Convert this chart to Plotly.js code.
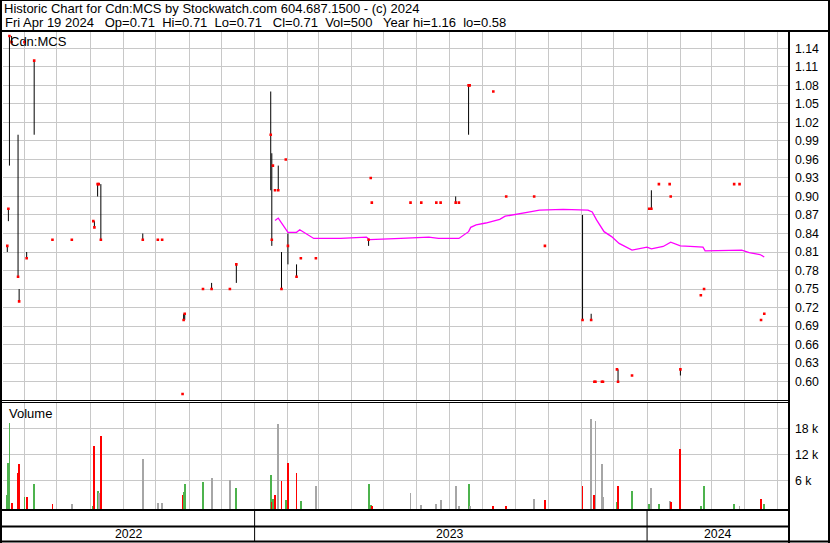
<!DOCTYPE html>
<html>
<head>
<meta charset="utf-8">
<script src="https://cdn.plot.ly/plotly-3.0.1.min.js"></script>
<style>
html, body { margin: 0; padding: 0; background: #ffffff; }
#chart { width: 830px; height: 543px; }
</style>
</head>
<body>
<div id="chart"></div>
<script>
// ---------------- DATA ----------------
const tradeDates = [
  '2022-05-16','2022-05-17','2022-05-18','2022-05-20','2022-05-26','2022-05-27','2022-06-01','2022-06-03','2022-06-10','2022-06-27',
  '2022-07-15','2022-08-04','2022-08-05','2022-08-08','2022-08-09','2022-08-11','2022-09-19','2022-10-03','2022-10-07','2022-10-26',
  '2022-10-27','2022-10-28','2022-11-14','2022-11-22','2022-12-09','2022-12-15',
  '2023-01-16','2023-01-17','2023-01-18','2023-01-20','2023-01-23','2023-01-26','2023-01-30','2023-02-01','2023-02-09','2023-02-13',
  '2023-02-27','2023-04-17','2023-04-19','2023-04-20','2023-05-26','2023-06-05','2023-06-19','2023-06-23','2023-07-07','2023-07-10',
  '2023-07-19','2023-07-20','2023-08-11','2023-08-23','2023-09-18','2023-09-28','2023-11-02','2023-11-10','2023-11-13','2023-11-14',
  '2023-11-20','2023-11-21','2023-12-04','2023-12-05','2023-12-18',
  '2024-01-03','2024-01-05','2024-01-12','2024-01-22','2024-01-23','2024-02-01','2024-02-20','2024-02-23','2024-03-22','2024-03-27',
  '2024-04-16','2024-04-19'
];
const highs = [
  0.82,0.88,1.16,1.16,1.00,0.75,1.15,0.81,1.12,0.83,
  0.83,0.86,0.86,0.92,0.92,0.92,0.84,0.83,0.83,0.58,
  0.71,0.71,0.75,0.76,0.75,0.79,
  1.07,0.97,0.95,0.91,0.95,0.81,0.96,0.84,0.79,0.80,
  0.80,0.83,0.93,0.89,0.89,0.89,0.89,0.89,0.90,0.89,
  1.08,1.08,1.07,0.90,0.90,0.82,0.87,0.71,0.60,0.60,
  0.60,0.60,0.62,0.62,0.61,
  0.88,0.91,0.92,0.92,0.90,0.62,0.74,0.75,0.92,0.92,
  0.70,0.71
];
const lows = [
  0.81,0.86,0.95,1.15,0.77,0.73,1.15,0.80,1.00,0.83,
  0.83,0.86,0.85,0.90,0.92,0.83,0.83,0.83,0.83,0.58,
  0.70,0.70,0.75,0.75,0.75,0.76,
  0.91,0.82,0.95,0.91,0.91,0.75,0.96,0.79,0.77,0.80,
  0.80,0.82,0.93,0.89,0.89,0.89,0.89,0.89,0.89,0.89,
  1.00,1.08,1.07,0.90,0.90,0.82,0.70,0.70,0.60,0.60,
  0.60,0.60,0.62,0.60,0.61,
  0.88,0.88,0.92,0.92,0.90,0.61,0.74,0.75,0.92,0.92,
  0.70,0.71
];
const closes = [
  0.82,0.88,1.16,1.15,0.77,0.73,1.15,0.80,1.12,0.83,
  0.83,0.86,0.85,0.92,0.92,0.83,0.83,0.83,0.83,0.58,
  0.70,0.71,0.75,0.75,0.75,0.79,
  1.00,0.83,0.95,0.91,0.91,0.75,0.96,0.82,0.77,0.80,
  0.80,0.83,0.93,0.89,0.89,0.89,0.89,0.89,0.89,0.89,
  1.08,1.08,1.07,0.90,0.90,0.82,0.70,0.70,0.60,0.60,
  0.60,0.60,0.62,0.60,0.61,
  0.88,0.88,0.92,0.92,0.90,0.62,0.74,0.75,0.92,0.92,
  0.70,0.71
];
const volumes = [
  2600,10000,19300,800,7800,9800,2100,2100,5100,500,
  500,100,13900,3500,3100,16200,10900,800,800,2600,
  3300,5100,5600,6500,6100,4200,
  7200,1000,1700,2600,19000,5900,1450,10000,7700,1200,
  4700,5100,300,100,3100,300,500,1450,4700,100,
  5100,100,100,100,1700,1450,4700,20150,2600,19700,
  9800,2100,1000,4700,3500,
  500,4200,500,1200,1000,13200,100,4700,500,100,
  1700,500
];
const priorClose = 0.80;   // close before the first day shown

// moving average line (magenta)
const maDates = [
  '2023-01-20','2023-01-23','2023-02-01','2023-02-09','2023-02-12','2023-02-25','2023-03-22','2023-04-15','2023-04-18','2023-04-28',
  '2023-05-17','2023-06-12','2023-06-21','2023-07-10','2023-07-15','2023-07-19','2023-07-21','2023-07-26','2023-08-04','2023-08-17',
  '2023-08-22','2023-09-02','2023-09-14','2023-09-23','2023-10-03','2023-10-15','2023-11-07','2023-11-11','2023-11-15','2023-11-22',
  '2023-11-29','2023-12-06','2023-12-18','2024-01-01','2024-01-05','2024-01-16','2024-01-23','2024-02-01','2024-02-10','2024-02-22',
  '2024-02-24','2024-03-08','2024-03-29','2024-04-05','2024-04-15','2024-04-19'
];
const maValues = [
  0.861,0.865,0.842,0.842,0.846,0.832,0.832,0.834,0.830,0.831,
  0.832,0.834,0.832,0.832,0.838,0.843,0.850,0.854,0.857,0.863,
  0.868,0.871,0.875,0.878,0.879,0.879,0.878,0.875,0.862,0.843,
  0.835,0.824,0.813,0.818,0.815,0.819,0.826,0.820,0.819,0.818,
  0.812,0.812,0.813,0.809,0.806,0.802
];

const priceTicks = [0.60,0.63,0.66,0.69,0.72,0.75,0.78,0.81,0.84,0.87,0.90,0.93,0.96,0.99,1.02,1.05,1.08,1.11,1.14];
const volumeTicks = [6000, 12000, 18000];
const volumeTickText = ['6 k', '12 k', '18 k'];
const yearLabels = ['2022', '2023', '2024'];

const headerLine1 = 'Historic Chart for Cdn:MCS by Stockwatch.com 604.687.1500 - (c) 2024';
const headerLine2 = 'Fri Apr 19 2024\u00a0\u00a0 Op=0.71\u00a0 Hi=0.71\u00a0 Lo=0.71\u00a0\u00a0 Cl=0.71\u00a0 Vol=500\u00a0\u00a0 Year hi=1.16\u00a0 lo=0.58';
const symbolLabel = 'Cdn:MCS';
const volumeLabel = 'Volume';

// ---------------- LAYOUT CONSTANTS ----------------
const W = 830, H = 543;
const px = x => x / W;
const py = y => 1 - y / H;
const FONT = 'Liberation Sans, Arial, Helvetica, sans-serif';
const xRange = ['2022-05-12', '2024-05-12'];
const plotL = 3, plotR = 789;
const priceTop = 32, priceBot = 400.2;
const volTop = 402.5, volBot = 510;
const priceRange = [0.57, 1.1664];
const volRange = [-854, 23954];
const GRID = '#c8c8c8';
const GREEN = '#4db34d', RED = '#ff0000', GREY = '#a6a6a6';

// ---------------- TRACES ----------------
const barX = [], barY = [];
tradeDates.forEach((d, i) => {
  barX.push(d, d, null);
  barY.push(highs[i], lows[i], null);
});

const volColors = closes.map((c, i) => {
  const prev = i === 0 ? priorClose : closes[i - 1];
  const diff = Math.round((c - prev) * 1000);
  return diff > 0 ? GREEN : (diff < 0 ? RED : GREY);
});
const volBase = volRange[0];
const barWidthMs = 1.75 * 86400000;

const traces = [
  {
    type: 'scatter', mode: 'lines', x: barX, y: barY,
    line: { color: '#000000', width: 1 }, xaxis: 'x', yaxis: 'y',
    connectgaps: false, hoverinfo: 'skip'
  },
  {
    type: 'scatter', mode: 'lines', x: maDates, y: maValues,
    line: { color: '#ff00ff', width: 1.3 }, xaxis: 'x', yaxis: 'y', hoverinfo: 'skip'
  },
  {
    type: 'scatter', mode: 'markers', x: tradeDates, y: closes,
    marker: { symbol: 'square', size: 2.6, color: '#ff0000', line: { width: 0 } },
    xaxis: 'x', yaxis: 'y', hoverinfo: 'skip'
  },
  {
    type: 'bar', x: tradeDates, y: volumes.map(v => v - volBase), base: volBase,
    width: barWidthMs, marker: { color: volColors, line: { width: 0 } },
    xaxis: 'x2', yaxis: 'y2', hoverinfo: 'skip'
  }
];

// ---------------- SHAPES ----------------
const line = (x0, y0, x1, y1, w) => ({
  type: 'line', xref: 'paper', yref: 'paper',
  x0: px(x0), y0: py(y0), x1: px(x1), y1: py(y1),
  line: { color: '#000000', width: w }, layer: 'above'
});
const shapes = [
  line(0, 0.5, 830, 0.5, 1),
  line(0, 31, 830, 31, 2),
  line(1, 0, 1, 543, 2),
  line(829, 0, 829, 543, 2),
  line(789, 31, 789, 543, 2),
  line(0, 400.5, 789, 400.5, 1),
  line(0, 402.5, 789, 402.5, 1),
  line(0, 510, 789, 510, 2),
  line(0, 526.5, 789, 526.5, 2),
  line(0, 541.5, 830, 541.5, 2)
];
// year separators at year boundaries (through the date axis)
yearLabels.slice(1).forEach(y => {
  shapes.push({
    type: 'line', xref: 'x', yref: 'paper',
    x0: y + '-01-01', x1: y + '-01-01', y0: py(510), y1: py(541),
    line: { color: '#000000', width: 1 }, layer: 'above'
  });
});

// ---------------- ANNOTATIONS ----------------
const ann = (text, x, y, xanchor, size) => ({
  text: text, xref: 'paper', yref: 'paper', x: px(x), y: py(y),
  xanchor: xanchor, yanchor: 'middle', showarrow: false,
  font: { family: FONT, size: size, color: '#000000' }
});
const annotations = [
  ann(headerLine1, 2, 8.8, 'left', 13),
  ann(headerLine2, 3, 22.8, 'left', 13),
  ann(symbolLabel, 8, 41.5, 'left', 13),
  ann(volumeLabel, 7, 413.5, 'left', 13)
];
const r0 = Date.parse(xRange[0]), r1 = Date.parse(xRange[1]);
yearLabels.forEach(y => {
  const a = Math.max(r0, Date.parse(y + '-01-01'));
  const b = Math.min(r1, Date.parse((+y + 1) + '-01-01'));
  const mid = new Date((a + b) / 2).toISOString().slice(0, 10);
  annotations.push({
    text: y, xref: 'x', yref: 'paper', x: mid, y: py(534),
    xanchor: 'center', yanchor: 'middle', showarrow: false,
    font: { family: FONT, size: 12.3, color: '#000000' }
  });
});

// ---------------- LAYOUT ----------------
const xCommon = {
  type: 'date', range: xRange, domain: [px(plotL), px(plotR)],
  showgrid: true, gridcolor: GRID, gridwidth: 1,
  tick0: '2022-01-01', dtick: 'M1', showticklabels: false, ticks: '',
  zeroline: false, showline: false, fixedrange: true
};
const layout = {
  width: W, height: H,
  margin: { l: 0, r: 0, t: 0, b: 0, pad: 0 },
  paper_bgcolor: '#ffffff', plot_bgcolor: '#ffffff',
  showlegend: false, hovermode: false, bargap: 0,
  xaxis: Object.assign({}, xCommon, { anchor: 'y' }),
  xaxis2: Object.assign({}, xCommon, { anchor: 'y2', matches: 'x' }),
  yaxis: {
    domain: [py(priceBot), py(priceTop)], range: priceRange, anchor: 'x', side: 'right',
    tickvals: priceTicks, ticktext: priceTicks.map(v => v.toFixed(2)),
    showgrid: true, gridcolor: GRID, gridwidth: 1, zeroline: false, showline: false,
    ticks: '', ticklabelstandoff: 5,
    tickfont: { family: FONT, size: 12.3, color: '#000000' }, fixedrange: true
  },
  yaxis2: {
    domain: [py(volBot), py(volTop)], range: volRange, anchor: 'x2', side: 'right',
    tickvals: volumeTicks, ticktext: volumeTickText,
    showgrid: true, gridcolor: GRID, gridwidth: 1, zeroline: false, showline: false,
    ticks: '', ticklabelstandoff: 5,
    tickfont: { family: FONT, size: 12.3, color: '#000000' }, fixedrange: true
  },
  shapes: shapes,
  annotations: annotations
};

Plotly.newPlot('chart', traces, layout, { staticPlot: true, displayModeBar: false });
</script>
</body>
</html>
